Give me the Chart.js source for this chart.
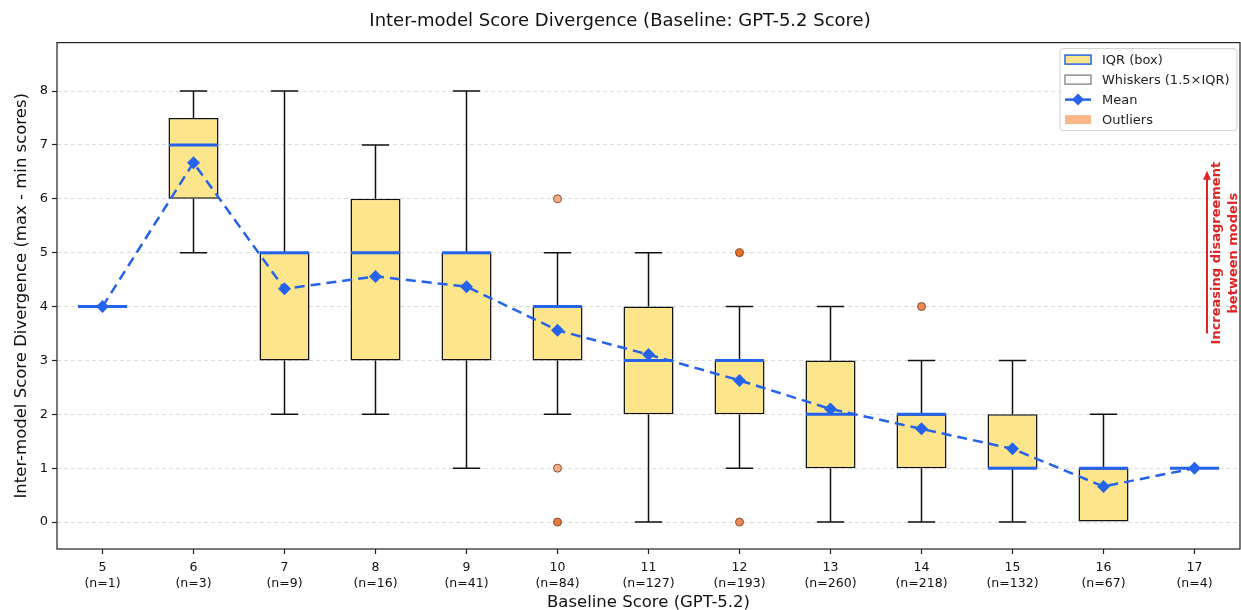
<!DOCTYPE html>
<html>
<head>
<meta charset="utf-8">
<script src="https://cdn.jsdelivr.net/npm/chart.js@4.4.1/dist/chart.umd.min.js"></script>
<style>
  html, body { margin: 0; padding: 0; background: #fff; }
  #wrap { width: 1241px; height: 610px; }
</style>
</head>
<body>
<div id="wrap"><canvas id="chartBox" width="1241" height="610"></canvas></div>
<script>
// scores de base et effectifs
const scores = ['5', '6', '7', '8', '9', '10', '11', '12', '13', '14', '15', '16', '17'];
const counts = [1, 3, 9, 16, 41, 84, 127, 193, 260, 218, 132, 67, 4];

// quartiles, mediane, moustaches
const q1 = [4, 6, 3, 3, 3, 3, 2, 2, 1, 1, 1, 0, 1];
const q3 = [4, 7.5, 5, 6, 5, 4, 4, 3, 3, 2, 2, 1, 1];
const medians = [4, 7, 5, 5, 5, 4, 3, 3, 2, 2, 1, 1, 1];
const whiskerLow = [4, 5, 2, 2, 1, 2, 0, 1, 0, 0, 0, 0, 1];
const whiskerHigh = [4, 8, 8, 7, 8, 5, 5, 4, 4, 3, 3, 2, 1];
const means = [4.0, 6.67, 4.33, 4.56, 4.37, 3.56, 3.11, 2.63, 2.1, 1.73, 1.36, 0.66, 1.0];

// valeurs aberrantes (score, divergence)
const outlierX = ['10', '10', '10', '12', '12', '14'];
const outlierY = [6, 1, 0, 5, 0, 4];
const outlierCol = ['#f2ad85', '#f2ad85', '#e8793a', '#e66f2a', '#ea8a52', '#ea8a52'];

const yTicks = [0, 1, 2, 3, 4, 5, 6, 7, 8];

const BLUE = '#2563eb';
const BOX_FILL = '#fce58a';
const RED = '#dc2626';
const FONT = "'DejaVu Sans', sans-serif";

const boxPlugin = {
    id: 'boxExtras',
    beforeDatasetsDraw(chart) {
        // moustaches
        const ctx = chart.ctx, xs = chart.scales.x, ys = chart.scales.y;
        const step = xs.getPixelForValue(1) - xs.getPixelForValue(0);
        ctx.save();
        ctx.strokeStyle = '#111';
        ctx.lineWidth = 1.5;
        scores.forEach((s, i) => {
            const x = xs.getPixelForValue(i);
            const cap = step * 0.15;
            [[q3[i], whiskerHigh[i]], [q1[i], whiskerLow[i]]].forEach(([a, b]) => {
                if (a === b) return;
                ctx.beginPath();
                ctx.moveTo(x, ys.getPixelForValue(a));
                ctx.lineTo(x, ys.getPixelForValue(b));
                ctx.moveTo(x - cap, ys.getPixelForValue(b));
                ctx.lineTo(x + cap, ys.getPixelForValue(b));
                ctx.stroke();
            });
        });
        ctx.restore();
    },
    afterDatasetDraw(chart, args) {
        if (args.index !== 0) return;
        // medianes en bleu
        const ctx = chart.ctx, xs = chart.scales.x, ys = chart.scales.y;
        const step = xs.getPixelForValue(1) - xs.getPixelForValue(0);
        ctx.save();
        ctx.strokeStyle = BLUE;
        ctx.lineWidth = 3;
        medians.forEach((m, i) => {
            const x = xs.getPixelForValue(i);
            const y = ys.getPixelForValue(m);
            ctx.beginPath();
            ctx.moveTo(x - step * 0.27, y);
            ctx.lineTo(x + step * 0.27, y);
            ctx.stroke();
        });
        ctx.restore();
    },
    afterDraw(chart) {
        const ctx = chart.ctx, a = chart.chartArea;
        ctx.save();
        // cadre
        ctx.strokeStyle = '#222';
        ctx.lineWidth = 1.2;
        ctx.strokeRect(a.left, a.top, a.right - a.left, a.bottom - a.top);

        // fleche + texte
        const ys = chart.scales.y;
        const ax = a.right - 33;
        const y0 = ys.getPixelForValue(3.5), y1 = ys.getPixelForValue(6.52);
        ctx.strokeStyle = RED;
        ctx.fillStyle = RED;
        ctx.lineWidth = 2;
        ctx.beginPath();
        ctx.moveTo(ax, y0);
        ctx.lineTo(ax, y1 + 6);
        ctx.stroke();
        ctx.beginPath();
        ctx.moveTo(ax, y1);
        ctx.lineTo(ax - 4, y1 + 9);
        ctx.lineTo(ax + 4, y1 + 9);
        ctx.closePath();
        ctx.fill();
        ctx.translate(a.right - 15, (y0 + y1) / 2 + 1);
        ctx.rotate(-Math.PI / 2);
        ctx.font = 'bold 13px ' + FONT;
        ctx.textAlign = 'center';
        ctx.textBaseline = 'middle';
        ctx.fillText('Increasing disagreement', 0, -8);
        ctx.fillText('between models', 0, 9);
        ctx.restore();

        // legende
        ctx.save();
        const lx = a.right - 180, ly = a.top + 6, lw = 177, lh = 82;
        ctx.fillStyle = 'rgba(255,255,255,0.85)';
        ctx.strokeStyle = '#d0d0d0';
        ctx.lineWidth = 1;
        ctx.beginPath();
        ctx.roundRect(lx, ly, lw, lh, 3);
        ctx.fill();
        ctx.stroke();
        ctx.font = '13px ' + FONT;
        ctx.textBaseline = 'middle';
        const items = ['IQR (box)', 'Whiskers (1.5×IQR)', 'Mean', 'Outliers'];
        items.forEach((t, k) => {
            const cy = ly + 11 + k * 20;
            const px = lx + 5;
            if (k === 0) {
                ctx.fillStyle = BOX_FILL; ctx.fillRect(px, cy - 4.5, 26, 9);
                ctx.strokeStyle = BLUE; ctx.lineWidth = 1.5; ctx.strokeRect(px, cy - 4.5, 26, 9);
            } else if (k === 1) {
                ctx.fillStyle = '#fff'; ctx.fillRect(px, cy - 4.5, 26, 9);
                ctx.strokeStyle = '#777'; ctx.lineWidth = 1.2; ctx.strokeRect(px, cy - 4.5, 26, 9);
            } else if (k === 2) {
                ctx.strokeStyle = BLUE; ctx.lineWidth = 2.5;
                ctx.beginPath(); ctx.moveTo(px, cy); ctx.lineTo(px + 26, cy); ctx.stroke();
                ctx.fillStyle = BLUE;
                ctx.beginPath();
                ctx.moveTo(px + 13, cy - 6); ctx.lineTo(px + 19, cy);
                ctx.lineTo(px + 13, cy + 6); ctx.lineTo(px + 7, cy);
                ctx.closePath(); ctx.fill();
            } else {
                ctx.fillStyle = '#fdb58a'; ctx.fillRect(px, cy - 4.5, 26, 9);
            }
            ctx.fillStyle = '#222';
            ctx.fillText(t, lx + 42, cy + 1);
        });
        ctx.restore();
    }
};

let ctxBox = document.getElementById('chartBox');

let myChart = new Chart(ctxBox, {
    type: 'bar',
    data: {
        labels: scores,
        datasets: [{
            label: 'IQR (box)',
            data: q1.map((v, i) => [v, q3[i]]),
            backgroundColor: BOX_FILL,
            borderColor: '#111',
            borderWidth: 1.5,
            borderSkipped: false,
            barPercentage: 0.55,
            categoryPercentage: 1,
            order: 3
        }, {
            type: 'line',
            label: 'Mean',
            data: means,
            borderColor: BLUE,
            backgroundColor: BLUE,
            borderWidth: 2.5,
            borderDash: [10, 6],
            pointStyle: 'rectRot',
            pointRadius: 6.5,
            pointBorderWidth: 0,
            order: 1
        }, {
            type: 'line',
            label: 'Outliers',
            data: outlierX.map((x, i) => ({ x: x, y: outlierY[i] })),
            showLine: false,
            pointRadius: 4,
            pointBackgroundColor: outlierCol,
            pointBorderColor: 'rgba(90,40,10,0.7)',
            pointBorderWidth: 1,
            order: 2
        }]
    },
    options: {
        responsive: false,
        animation: false,
        devicePixelRatio: 1,
        layout: { autoPadding: false, padding: { left: 0, right: 1, top: 0, bottom: 0 } },
        plugins: {
            legend: { display: false },
            tooltip: { enabled: false },
            title: {
                display: true,
                text: 'Inter-model Score Divergence (Baseline: GPT-5.2 Score)',
                color: '#111',
                font: { family: FONT, size: 18, weight: 'normal' },
                padding: { top: 11, bottom: 10 }
            }
        },
        scales: {
            x: {
                offset: true,
                afterFit: function (axis) {
                    axis.height = 61;
                    axis.paddingLeft = 0;
                    axis.paddingRight = 0;
                },
                grid: { display: true, offset: false, drawOnChartArea: false, tickLength: 5, tickColor: '#222', tickWidth: 1.2 },
                border: { display: false },
                ticks: {
                    color: '#111',
                    font: { family: FONT, size: 12.5, lineHeight: 1.25 },
                    padding: 6,
                    maxRotation: 0,
                    autoSkip: false,
                    callback: function (v, i) { return [scores[i], '(n=' + counts[i] + ')']; }
                },
                title: {
                    display: true,
                    text: 'Baseline Score (GPT-5.2)',
                    color: '#111',
                    font: { family: FONT, size: 16.5 },
                    padding: { top: 4, bottom: -3 }
                }
            },
            y: {
                min: -0.5,
                max: 8.9,
                afterBuildTicks: function (axis) { axis.ticks = yTicks.map(v => ({ value: v })); },
                afterFit: function (axis) {
                    axis.width = 57;
                    axis.paddingTop = 0;
                    axis.paddingBottom = 0;
                },
                grid: {
                    color: '#dddddd',
                    lineWidth: 1,
                    tickColor: '#222',
                    tickWidth: 1.2,
                    tickLength: 5,
                    tickBorderDash: []
                },
                border: { display: false, dash: [4, 3] },
                ticks: { color: '#111', font: { family: FONT, size: 13 }, padding: 4 },
                title: {
                    display: true,
                    text: 'Inter-model Score Divergence (max - min scores)',
                    color: '#111',
                    font: { family: FONT, size: 16.5 },
                    padding: { top: 12, bottom: 0 }
                }
            }
        }
    },
    plugins: [boxPlugin]
});
</script>
</body>
</html>
